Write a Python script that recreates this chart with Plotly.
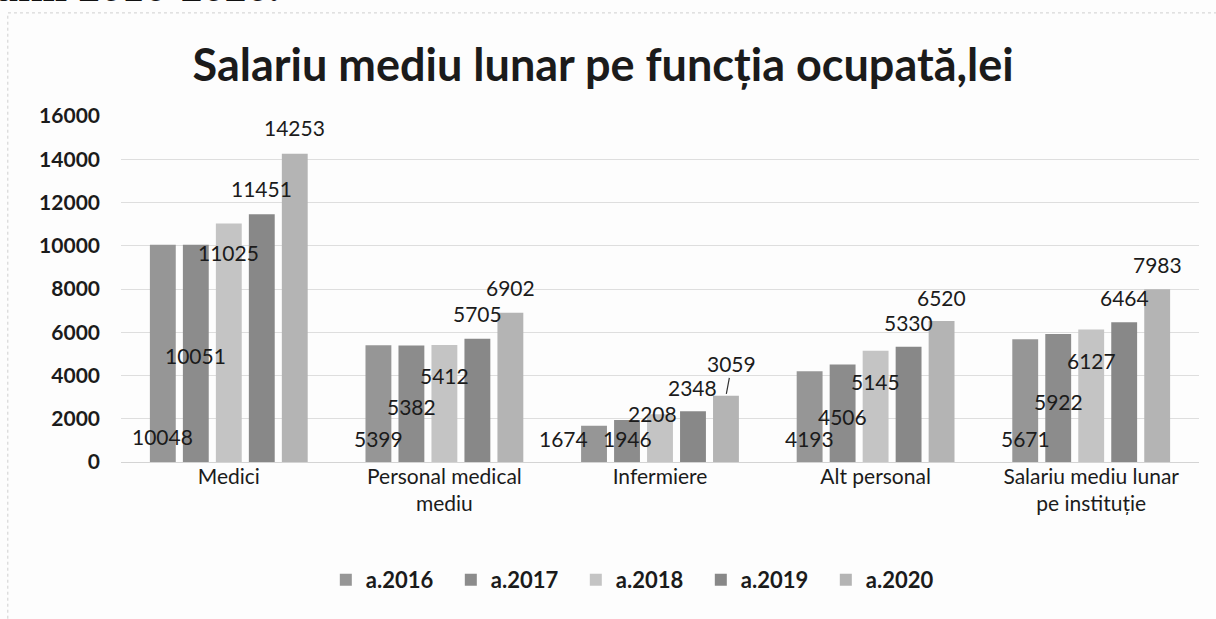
import plotly.graph_objects as go

# Data
categories = ["Medici", "Personal medical<br>mediu", "Infermiere", "Alt personal",
              "Salariu mediu lunar<br>pe instituție"]
years = ["a.2016", "a.2017", "a.2018", "a.2019", "a.2020"]
v2016 = [10048, 5399, 1674, 4193, 5671]
v2017 = [10051, 5382, 1946, 4506, 5922]
v2018 = [11025, 5412, 2208, 5145, 6127]
v2019 = [11451, 5705, 2348, 5330, 6464]
v2020 = [14253, 6902, 3059, 6520, 7983]
series = [v2016, v2017, v2018, v2019, v2020]

# Style: bar colours, and where each value label sits (px below the bar top, px sideways)
colors = ["#969696", "#8c8c8c", "#c4c4c4", "#888888", "#b4b4b4"]
label_drop = [
    [192, 93, 13, 67, 99],
    [111, 61, 19, 52, 68],
    [29, 31, -1, 31, 31],
    [-26, -25, -24, -24, -25],
    [-26, -25, -32, -24, -25],
]
label_dx = [
    [0, 0, -31, 0, 0],
    [0, 0, 0, 0, 0],
    [0, 0, -8, 0, 0],
    [0, 0, 0, 0, 0],
    [0, 0, 6, 0, 0],
]
slot = 0.153
bar_w = 0.12
font = "Lato"
ink = "#1b1b1b"

fig = go.Figure()
annotations = []
idx = list(range(len(categories)))
for s, (name, vals) in enumerate(zip(years, series)):
    off = (s - 2) * slot
    xs = [i + off for i in idx]
    fig.add_trace(go.Bar(
        x=xs, y=vals, width=bar_w, name=name,
        marker=dict(color=colors[s], line=dict(width=0)),
        hoverinfo="y+name",
    ))
    for i, v in enumerate(vals):
        if s == 4 and i == 2:
            # label dragged away from the bar, with a leader line
            annotations.append(dict(
                x=xs[i], y=v, text=str(v), showarrow=True, arrowhead=0,
                arrowwidth=1.2, arrowcolor="#333", standoff=2,
                ax=label_dx[s][i], ay=label_drop[s][i],
                font=dict(family=font, size=21, color=ink),
            ))
            continue
        annotations.append(dict(
            x=xs[i], y=v, text=str(v), showarrow=False,
            xshift=label_dx[s][i], yshift=-label_drop[s][i],
            font=dict(family=font, size=21, color=ink),
        ))

# partial line of the document text, cut at the top edge of the scan
annotations.append(dict(
    xref="paper", yref="paper", x=-0.118, y=1.297, xanchor="left", yanchor="bottom",
    text="anii 2016-2020.", showarrow=False,
    font=dict(family="Liberation Serif", size=44, color="#111", weight="bold"),
))

fig.update_layout(
    width=1216, height=619,
    margin=dict(l=121, r=17, t=116, b=157),
    paper_bgcolor="#fdfdfd", plot_bgcolor="#fdfdfd",
    barmode="overlay",
    title=dict(
        text="Salariu mediu lunar pe funcția ocupată,lei",
        x=0.496, xanchor="center", y=0.895, yanchor="middle",
        font=dict(family=font, size=45, color=ink, weight="bold"),
    ),
    xaxis=dict(
        tickmode="array", tickvals=idx, ticktext=categories,
        range=[-0.5, len(categories) - 0.5], showgrid=False, zeroline=False,
        showline=False, ticks="",
        tickfont=dict(family=font, size=21, color=ink),
    ),
    yaxis=dict(
        range=[0, 16000], dtick=2000, tickformat="d", showgrid=True,
        gridcolor="#dedede", gridwidth=1, zeroline=True, zerolinecolor="#d4d4d4",
        zerolinewidth=1, ticklabelstandoff=20,
        tickfont=dict(family=font, size=21, color=ink, weight="bold"),
    ),
    legend=dict(
        orientation="h", x=0.19, xanchor="left", y=-0.341, yanchor="middle",
        entrywidth=80, entrywidthmode="pixels",
        font=dict(family=font, size=22, color=ink, weight="bold"),
        bgcolor="rgba(0,0,0,0)",
    ),
    annotations=annotations,
    shapes=[dict(
        type="rect", xref="paper", yref="paper",
        x0=-0.105, x1=1.03, y0=-0.5, y1=1.298,
        line=dict(color="#cfcfcf", width=1, dash="dot"), fillcolor="rgba(0,0,0,0)",
        layer="below",
    )],
    showlegend=True,
)

fig.write_html("out.html", config={"displayModeBar": False},
               post_script="document.body.style.margin='0';")
